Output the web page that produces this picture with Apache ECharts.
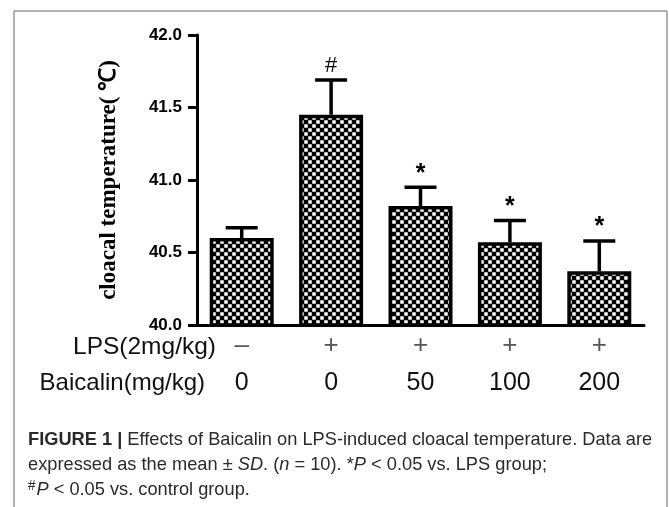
<!DOCTYPE html>
<html><head><meta charset="utf-8">
<script src="https://cdn.jsdelivr.net/npm/echarts@6/dist/echarts.min.js"></script>
<style>html,body{margin:0;padding:0;background:#fff}#c{width:669px;height:507px}</style>
</head><body><div id="c"></div>
<script>
const groups = ['Control', 'LPS', 'LPS+B50', 'LPS+B100', 'LPS+B200'];
const lpsRow = ['\u2013', '+', '+', '+', '+'];
const baicalinRow = ['0', '0', '50', '100', '200'];
const means = [40.60, 41.45, 40.82, 40.57, 40.37];
const sds = [0.07, 0.24, 0.13, 0.15, 0.21];
const marks = ['', '#', '*', '*', '*'];
const yTicks = { min: 40.0, max: 42.0, step: 0.5 };

const pc = document.createElement('canvas');
pc.width = 16; pc.height = 16;
const px = pc.getContext('2d');
px.fillStyle = '#000'; px.fillRect(0, 0, 16, 16);
px.fillStyle = '#fff'; px.fillRect(8.5, 0.5, 7, 7); px.fillRect(0.5, 8.5, 7, 7);

const cap = { fontFamily: 'Liberation Sans', fontSize: 19, fill: '#2a2a2a' };
const chart = echarts.init(document.getElementById('c'), null, { renderer: 'canvas' });
chart.setOption({
  animation: false,
  grid: { left: 197, right: 25, top: 35, bottom: 182, containLabel: false },
  xAxis: {
    type: 'category', data: groups,
    axisLine: { lineStyle: { color: '#000', width: 3 } },
    axisTick: { alignWithLabel: true, length: 7, lineStyle: { color: '#000', width: 2 } },
    axisLabel: {
      margin: 8, interval: 0,
      formatter: (v, i) => '{a|' + lpsRow[i] + '}\n{b|' + baicalinRow[i] + '}',
      rich: {
        a: { fontFamily: 'Liberation Sans', fontSize: 26, lineHeight: 26, color: '#555' },
        b: { fontFamily: 'Liberation Sans', fontSize: 25, lineHeight: 48, color: '#111' }
      }
    }
  },
  yAxis: {
    type: 'value', min: yTicks.min, max: yTicks.max, interval: yTicks.step,
    name: 'cloacal temperature( \u2103)', nameLocation: 'middle', nameGap: 76,
    nameTextStyle: { fontFamily: 'Liberation Serif', fontWeight: 'bold', fontSize: 23, color: '#000' },
    axisLine: { show: true, lineStyle: { color: '#000', width: 3 } },
    axisTick: { show: true, length: 9, lineStyle: { color: '#000', width: 3 } },
    splitLine: { show: false },
    axisLabel: { margin: 15, fontFamily: 'Liberation Sans', fontWeight: 'bold', fontSize: 17, color: '#000', formatter: v => v.toFixed(1) }
  },
  series: [
    {
      type: 'bar', data: means, barWidth: 64,
      itemStyle: { color: { image: pc, repeat: 'repeat', scaleX: 0.5, scaleY: 0.5 }, borderColor: '#000', borderWidth: 3.5 }
    },
    {
      type: 'custom', z: 5,
      data: means.map((m, i) => [i, m, sds[i]]),
      renderItem: (params, api) => {
        const i = api.value(0), m = api.value(1), s = api.value(2);
        const base = api.coord([i, m]);
        const top = api.coord([i, m + s]);
        const st = { stroke: '#000', lineWidth: 3.5 };
        const isHash = marks[i] === '#';
        return {
          type: 'group', children: [
            { type: 'line', shape: { x1: base[0], y1: base[1], x2: top[0], y2: top[1] }, style: st },
            { type: 'line', shape: { x1: top[0] - 16, y1: top[1], x2: top[0] + 16, y2: top[1] }, style: st },
            { type: 'text', x: top[0], y: top[1] - (isHash ? 3 : 1), style: { text: marks[i], fontFamily: 'Liberation Sans', fontWeight: isHash ? 'normal' : 'bold', fontSize: isHash ? 22 : 25, fill: '#000', align: 'center', verticalAlign: 'bottom' } }
          ]
        };
      }
    }
  ],
  graphic: [
    { type: 'rect', shape: { x: 14, y: 11, width: 653, height: 520 }, style: { fill: 'none', stroke: '#666', lineWidth: 1 }, silent: true },
    { type: 'text', x: 216, y: 347, style: { text: 'LPS(2mg/kg)', fontFamily: 'Liberation Sans', fontSize: 24.5, fill: '#111', align: 'right', verticalAlign: 'middle' } },
    { type: 'text', x: 205, y: 383, style: { text: 'Baicalin(mg/kg)', fontFamily: 'Liberation Sans', fontSize: 24, fill: '#111', align: 'right', verticalAlign: 'middle' } },
    { type: 'text', x: 28, y: 440, scaleX: 0.96, style: Object.assign({
      text: '{b|FIGURE 1 |} Effects of Baicalin on LPS-induced cloacal temperature. Data are',
      rich: { b: Object.assign({ fontWeight: 'bold' }, cap) }, verticalAlign: 'middle' }, cap) },
    { type: 'text', x: 28, y: 465, scaleX: 0.96, style: Object.assign({
      text: 'expressed as the mean \u00b1 {i|SD}. ({i|n} = 10). *{i|P} < 0.05 vs. LPS group;',
      rich: { i: Object.assign({ fontStyle: 'italic' }, cap) }, verticalAlign: 'middle' }, cap) },
    { type: 'text', x: 28, y: 490, scaleX: 0.96, style: Object.assign({
      text: '{s|#}{i|P} < 0.05 vs. control group.',
      rich: { i: Object.assign({ fontStyle: 'italic' }, cap), s: { fontFamily: 'Liberation Sans', fontSize: 14, fill: '#2a2a2a', verticalAlign: 'top', padding: [0, 1, 8, 0] } },
      verticalAlign: 'middle' }, cap) }
  ]
});
</script></body></html>
